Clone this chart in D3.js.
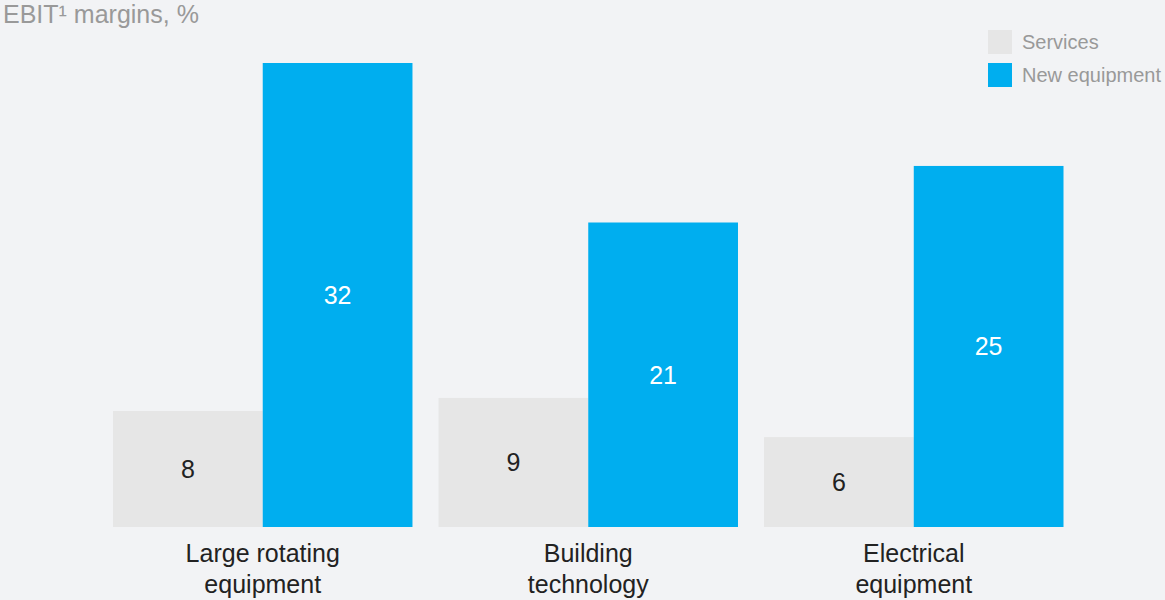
<!DOCTYPE html>
<html>
<head>
<meta charset="utf-8">
<script src="https://cdn.jsdelivr.net/npm/d3@7"></script>
<style>
  html, body { margin: 0; padding: 0; background: #f2f3f5; }
  svg { display: block; font-family: "Liberation Sans", Arial, sans-serif; }
</style>
</head>
<body>
<div id="chart"></div>
<script>
const categories = [["Large rotating", "equipment"], ["Building", "technology"], ["Electrical", "equipment"]];
const seriesNames = ["Services", "New equipment"];
const services = [8, 8.9, 6.2];
const newEquipment = [32, 21, 24.9];
const colors = ["#e6e6e6", "#00aeef"];
const labelColors = ["#222222", "#ffffff"];

const width = 1165, height = 600;
const svg = d3.select("#chart").append("svg")
    .attr("width", width)
    .attr("height", height);

svg.append("rect").attr("width", width).attr("height", height).attr("fill", "#f2f3f5");

const x0 = d3.scaleBand()
    .domain(d3.range(categories.length))
    .range([113, 1063.5])
    .paddingInner(0.08);

const x1 = d3.scaleBand()
    .domain(d3.range(seriesNames.length))
    .range([0, x0.bandwidth()]);

const y = d3.scaleLinear().domain([0, 32]).range([527, 63]);

const rows = categories.map((c, i) => ({ i, values: [services[i], newEquipment[i]] }));

const groups = svg.selectAll(".group")
    .data(rows)
    .enter().append("g")
    .attr("class", "group")
    .attr("transform", d => `translate(${x0(d.i)},0)`);

groups.selectAll("rect")
    .data(d => d.values.map((v, s) => ({ v, s })))
    .enter().append("rect")
    .attr("x", d => x1(d.s))
    .attr("y", d => y(d.v))
    .attr("width", x1.bandwidth())
    .attr("height", d => y(0) - y(d.v))
    .attr("fill", d => colors[d.s]);

groups.selectAll(".val")
    .data(d => d.values.map((v, s) => ({ v, s })))
    .enter().append("text")
    .attr("class", "val")
    .attr("x", d => x1(d.s) + x1.bandwidth() / 2)
    .attr("y", d => (y(d.v) + y(0)) / 2)
    .attr("dy", "0.36em")
    .attr("text-anchor", "middle")
    .attr("font-size", 25)
    .attr("fill", d => labelColors[d.s])
    .text(d => d3.format(".0f")(d.v));

// category labels, two lines each
const catText = groups.append("text")
    .attr("text-anchor", "middle")
    .attr("font-size", 25)
    .attr("fill", "#222222");
catText.selectAll("tspan")
    .data(d => categories[d.i])
    .enter().append("tspan")
    .attr("x", x0.bandwidth() / 2)
    .attr("y", (d, k) => 562 + k * 31)
    .text(d => d);

// title
svg.append("text")
    .attr("x", 3)
    .attr("y", 23)
    .attr("font-size", 25)
    .attr("fill", "#999999")
    .text("EBIT¹ margins, %");

// legend
const legend = svg.append("g").attr("transform", "translate(988,30)");
const li = legend.selectAll("g")
    .data(seriesNames)
    .enter().append("g")
    .attr("transform", (d, i) => `translate(0,${i * 33})`);
li.append("rect").attr("width", 24).attr("height", 24).attr("fill", (d, i) => colors[i]);
li.append("text")
    .attr("x", 34)
    .attr("y", 12)
    .attr("dy", "0.36em")
    .attr("font-size", 20)
    .attr("fill", "#999999")
    .text(d => d);
</script>
</body>
</html>
